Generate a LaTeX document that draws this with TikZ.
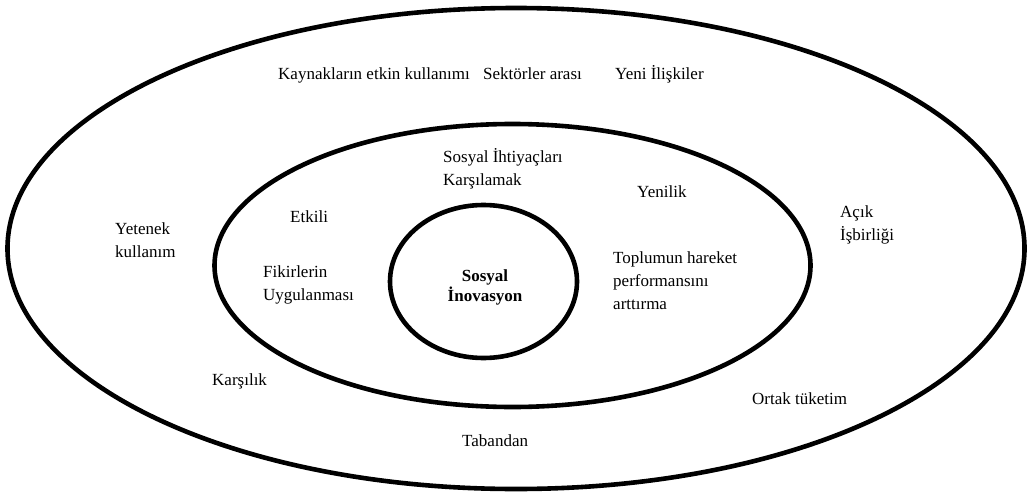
\documentclass[tikz,border=0pt]{standalone}
\usepackage{fontspec}
\setmainfont{Liberation Serif}
\usetikzlibrary{shapes.geometric}
\begin{document}
\begin{tikzpicture}[x=1pt,y=-1pt,
  ring/.style={draw=black,line width=4.6pt,ellipse,inner sep=0pt,fill=none},
  lblm/.style={anchor=west,inner sep=0pt,align=left,font=\fontsize{17}{23}\selectfont},
  lbl/.style={lblm,text height=12pt,text depth=3.5pt},
  core/.style={inner sep=0pt,align=center,font=\bfseries\fontsize{17}{20}\selectfont},
]
\useasboundingbox (0,0) rectangle (1027,495);
\node[ring,minimum width=1017pt,minimum height=481pt] (outer) at (516,248.5) {};
\node[ring,minimum width=596pt,minimum height=283pt] (middle) at (512.5,265.5) {};
\node[ring,minimum width=187pt,minimum height=153pt] (inner) at (483.5,281.5) {};

\node[core] (si) at (485,287) {Sosyal\\İnovasyon};

\node[lbl] (kay) at (278,75) {Kaynakların etkin kullanımı};
\node[lbl] (sek) at (483,75) {Sektörler arası};
\node[lbl] (yen) at (615,75) {Yeni İlişkiler};
\node[lblm] (ihti) at (443,169) {Sosyal İhtiyaçları\\Karşılamak};
\node[lbl] (yenilik) at (637,193) {Yenilik};
\node[lbl] (etk) at (290,218) {Etkili};
\node[lblm] (yet) at (115,240) {Yetenek\\kullanım};
\node[lblm] (acik) at (840,225) {Açık\\İşbirliği};
\node[lblm] (fik) at (263,285) {Fikirlerin\\Uygulanması};
\node[lblm] (top) at (613,281) {Toplumun hareket\\performansını\\arttırma};
\node[lbl] (kar) at (212,381) {Karşılık};
\node[lbl] (tab) at (462,442) {Tabandan};
\node[lbl] (ort) at (752,400) {Ortak tüketim};
\end{tikzpicture}
\end{document}
